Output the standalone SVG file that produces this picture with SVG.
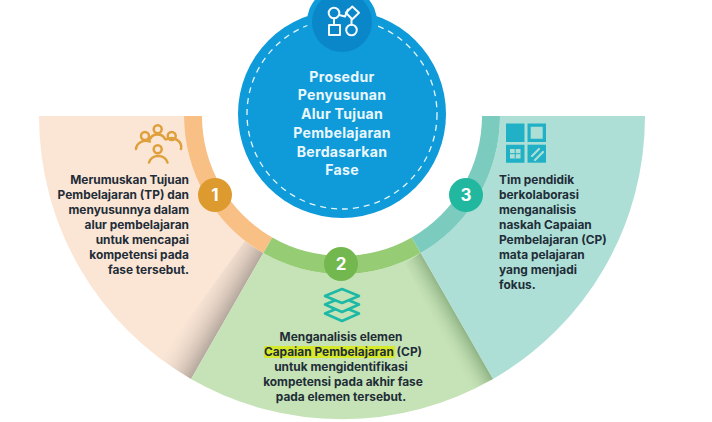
<svg xmlns="http://www.w3.org/2000/svg" width="712" height="422" viewBox="0 0 712 422">
<style>
.t{font-family:Inter,"Liberation Sans",sans-serif;font-weight:700;font-size:11.9px;fill:#1f2d38}
.h{font-family:Inter,"Liberation Sans",sans-serif;font-weight:700;font-size:14.1px;fill:#eaf7fd;text-anchor:middle;letter-spacing:.3px}
.n{font-family:Inter,"Liberation Sans",sans-serif;font-weight:700;font-size:17px;fill:#fff;text-anchor:middle}
.o{fill:none;stroke-linecap:round;stroke-linejoin:round}
</style>
<defs>
<linearGradient id="sl" gradientUnits="userSpaceOnUse" x1="227" y1="316" x2="192" y2="296"><stop offset="0" stop-color="#b5a89e"/><stop offset="1" stop-color="#fbe6d6" stop-opacity="0"/></linearGradient>
<linearGradient id="sr" gradientUnits="userSpaceOnUse" x1="457" y1="316" x2="434" y2="329"><stop offset="0" stop-color="#8fb384"/><stop offset="1" stop-color="#c6e3b7" stop-opacity="0"/></linearGradient>
</defs>
<rect width="712" height="422" fill="#fff"/>
<g id="segment-1">
<path d="M39 116H184A158 158 0 0 0 263.3 253L191 379A303 303 0 0 1 39 116Z" fill="#fbe6d6"/>
<path d="M263.3 253L191 379A303 303 0 0 1 160 358L245 241A158 158 0 0 0 263.3 253Z" fill="url(#sl)"/>
<path d="M184 116H202A140 140 0 0 0 272.3 237.4L263.3 253A158 158 0 0 1 184 116Z" fill="#f8c085"/>
<circle cx="215" cy="195" r="17" fill="#dd9a2f"/>
<text class="n" x="215" y="201">1</text>
<g class="o" stroke="#dfa03c" stroke-width="2.500">
<circle cx="145" cy="136" r="4"/><circle cx="157.700" cy="129.300" r="4"/><circle cx="171.700" cy="136" r="4"/><circle cx="157.700" cy="149.300" r="4"/>
<path d="M136 149A10 9 0 0 1 150 141.500M166 139.500A10 9 0 0 1 181 149M149 162.500A9.500 8.500 0 0 1 167.500 162.500M150 139A8 7 0 0 1 165 139"/>
</g>
<g class="t" text-anchor="end">
<text x="189" y="184">Merumuskan Tujuan</text>
<text x="189" y="199">Pembelajaran (TP) dan</text>
<text x="189" y="214">menyusunnya dalam</text>
<text x="189" y="229">alur pembelajaran</text>
<text x="189" y="244">untuk mencapai</text>
<text x="189" y="259">kompetensi pada</text>
<text x="189" y="274">fase tersebut.</text>
</g>
</g>
<g id="segment-2">
<path d="M263.300 253A158 158 0 0 0 420.700 253L493 379A303 303 0 0 1 191 379Z" fill="#c6e3b7"/>
<path d="M420.700 253L493 379A303 303 0 0 1 470 390L405 263A158 158 0 0 0 420.700 253Z" fill="url(#sr)"/>
<path d="M272.300 237.400A140 140 0 0 0 411.700 237.400L420.700 253A158 158 0 0 1 263.300 253Z" fill="#96cc74"/>
<circle cx="341" cy="264" r="17" fill="#72b84e"/>
<text class="n" x="341" y="270">2</text>
<g stroke="#1db9a6" stroke-width="2.600" fill="#c6e3b7" stroke-linejoin="round">
<path d="M325 313.500L342 306.500L359 313.500L342 321Z"/>
<path d="M325 304.500L342 297.500L359 304.500L342 312Z"/>
<path d="M325 296L342 289L359 296L342 303Z"/>
</g>
<rect x="264" y="346" width="131" height="12" fill="#d6e82a"/>
<g class="t" text-anchor="middle">
<text x="341" y="341">Menganalisis elemen</text>
<text x="343" y="356">Capaian Pembelajaran (CP)</text>
<text x="341" y="371">untuk mengidentifikasi</text>
<text x="343" y="386">kompetensi pada akhir fase</text>
<text x="341" y="401">pada elemen tersebut.</text>
</g>
</g>
<g id="segment-3">
<path d="M645 116H500A158 158 0 0 1 420.700 253L493 379A303 303 0 0 0 645 116Z" fill="#aedfd6"/>
<path d="M482 116H500A158 158 0 0 1 420.700 253L411.700 237.400A140 140 0 0 0 482 116Z" fill="#7ccbbf"/>
<circle cx="466" cy="195" r="17" fill="#22b8a0"/>
<text class="n" x="466" y="201">3</text>
<g fill="#20b1c6">
<rect x="506" y="123.500" width="18.500" height="18.500"/>
<path fill-rule="evenodd" d="M527.500 123.500h18.500v18.500h-18.500ZM530.700 126.700v12h12v-12Z"/>
<path fill-rule="evenodd" d="M506 144.700h18.500v18h-18.500ZM510 149v9.500h10.500v-9.500Z"/>
<rect x="527.500" y="144.700" width="18.500" height="18"/>
</g>
<path d="M515.200 149v9.500M510 153.700h10.500" stroke="#20b1c6" stroke-width="1"/>
<path d="M532 156L539 149M535 160L543 152" stroke="#aedfd6" stroke-width="2.200" stroke-linecap="round"/>
<g class="t">
<text x="499" y="184">Tim pendidik</text>
<text x="499" y="199">berkolaborasi</text>
<text x="499" y="214">menganalisis</text>
<text x="499" y="229">naskah Capaian</text>
<text x="499" y="244">Pembelajaran (CP)</text>
<text x="499" y="259">mata pelajaran</text>
<text x="499" y="274">yang menjadi</text>
<text x="499" y="289">fokus.</text>
</g>
</g>
<g id="center">
<circle cx="342" cy="114" r="104" fill="#0f9bd9"/>
<circle cx="342" cy="114" r="95" fill="none" stroke="#e6f6fc" stroke-width="1.300" stroke-dasharray="6 5"/>
<circle cx="342" cy="22" r="35" fill="#0f9bd9"/>
<circle cx="342" cy="22" r="30" fill="#0a87c9"/>
<g class="o" stroke="#f2fafe" stroke-width="2">
<circle cx="334" cy="13" r="5.300"/>
<path d="M352.300 6.500L359 12.800L352.300 19.300L345.800 12.800Z"/>
<rect x="329" y="25" width="11" height="10"/>
<circle cx="351.500" cy="30" r="5.300"/>
<path d="M334 18.300V25M351.500 19.300V24.700M339 15L345 16.500L348 9.500"/>
</g>
<g class="h">
<text x="342" y="82">Prosedur</text>
<text x="342" y="100">Penyusunan</text>
<text x="342" y="119">Alur Tujuan</text>
<text x="342" y="138">Pembelajaran</text>
<text x="342" y="157">Berdasarkan</text>
<text x="342" y="175">Fase</text>
</g>
</g>
</svg>
